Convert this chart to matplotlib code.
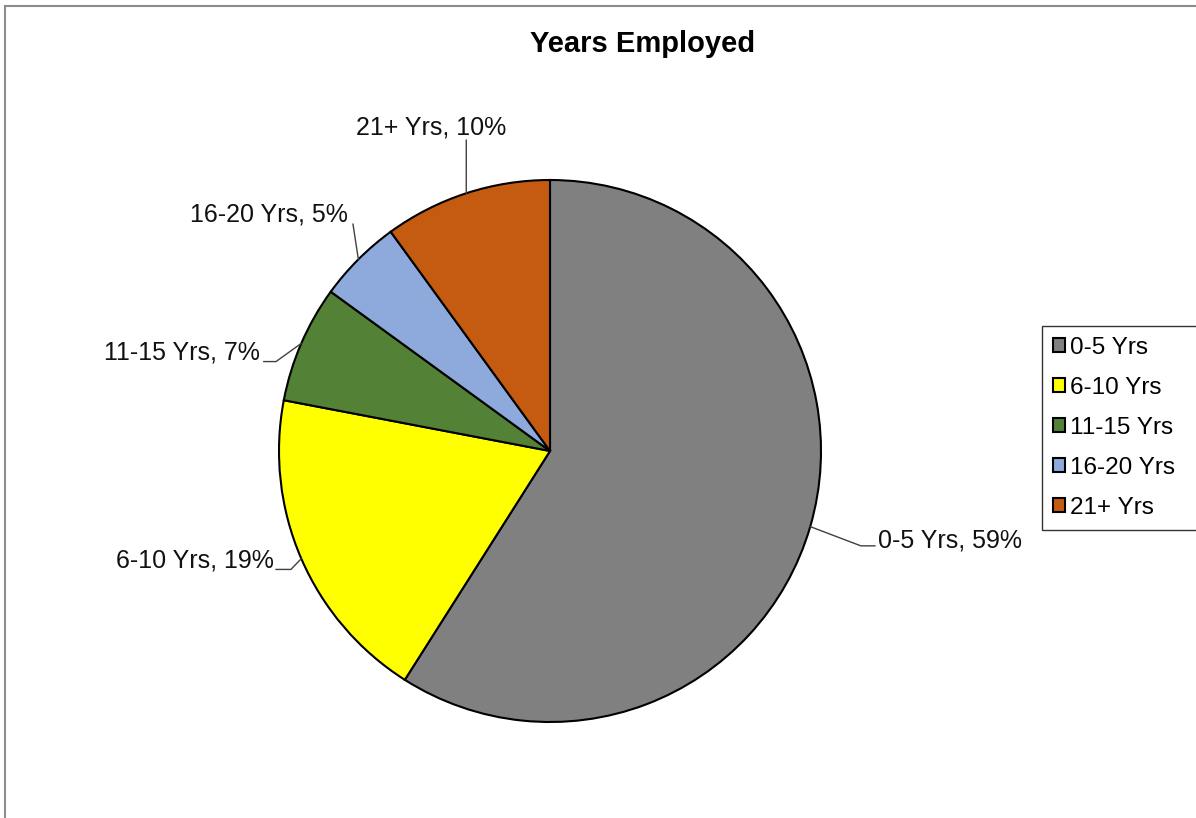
import matplotlib.pyplot as plt
from matplotlib.patches import Rectangle
import numpy as np

plt.rcParams['font.family'] = ['Liberation Sans', 'DejaVu Sans']

categorias = ['0-5 Yrs', '6-10 Yrs', '11-15 Yrs', '16-20 Yrs', '21+ Yrs']
porcentajes = [59, 19, 7, 5, 10]
colores = ['#808080', '#FFFF00', '#538135', '#8EA9DB', '#C55A11']

W, H = 1196, 818
fig = plt.figure(figsize=(W/100, H/100), dpi=100)

# marco gris del grafico (se corta a la derecha y abajo)
fig.patches.append(Rectangle((5/W, -0.1), 1.2, 1 - 6/H + 0.1, transform=fig.transFigure,
                             fill=False, edgecolor='#8c8c8c', linewidth=1.5))

cx, cy, r = 550, 451, 271
ax = fig.add_axes([(cx - r)/W, (H - cy - r)/H, 2*r/W, 2*r/H])
ax.axis('off')

cunas, _ = ax.pie(porcentajes, colors=colores, startangle=90, counterclock=False, radius=1,
                  wedgeprops=dict(edgecolor='black', linewidth=1.5), frame=False)
ax.set_xlim(-1, 1)
ax.set_ylim(-1, 1)
ax.set_aspect('equal')

# codo de la guia, tramo horizontal, posicion y alineacion del texto (en radios)
guias = {
    '0-5 Yrs':   ((1.147, -0.35), 0.052, (1.21, -0.33), 'left'),
    '6-10 Yrs':  ((-0.956, -0.437), -0.055, (-1.02, -0.405), 'right'),
    '11-15 Yrs': ((-1.011, 0.33), -0.045, (-1.07, 0.362), 'right'),
    '16-20 Yrs': ((-0.727, 0.837), 0.0, (-0.745, 0.872), 'right'),
    '21+ Yrs':   ((-0.309, 1.147), 0.0, (-0.437, 1.195), 'center'),
}

for cuna, cat, p in zip(cunas, categorias, porcentajes):
    ang = np.deg2rad((cuna.theta1 + cuna.theta2) / 2)
    x0, y0 = np.cos(ang), np.sin(ang)
    (xc, yc), dx, (tx, ty), ha = guias[cat]
    ax.plot([x0, xc, xc + dx], [y0, yc, yc], color='#404040', linewidth=1, clip_on=False)
    ax.text(tx, ty, f'{cat}, {p}%', ha=ha, va='center', fontsize=18, color='#111111', clip_on=False)

fig.text(643/W, 1 - 44/H, 'Years Employed', ha='center', va='center', fontsize=21, fontweight='bold')

ley = fig.legend(cunas, categorias, loc='upper left', bbox_to_anchor=(1042/W, 0, 0.2, 1 - 326/H),
                 mode='expand', frameon=True, fancybox=False, fontsize=17.5,
                 handlelength=0.5, handleheight=0.5, handletextpad=0.2,
                 labelspacing=0.74, borderpad=0.45, borderaxespad=0)
ley.get_frame().set_edgecolor('black')
ley.get_frame().set_linewidth(1)
for h in ley.legend_handles:
    h.set_linewidth(1.5)

plt.savefig('out.png', dpi=100)
